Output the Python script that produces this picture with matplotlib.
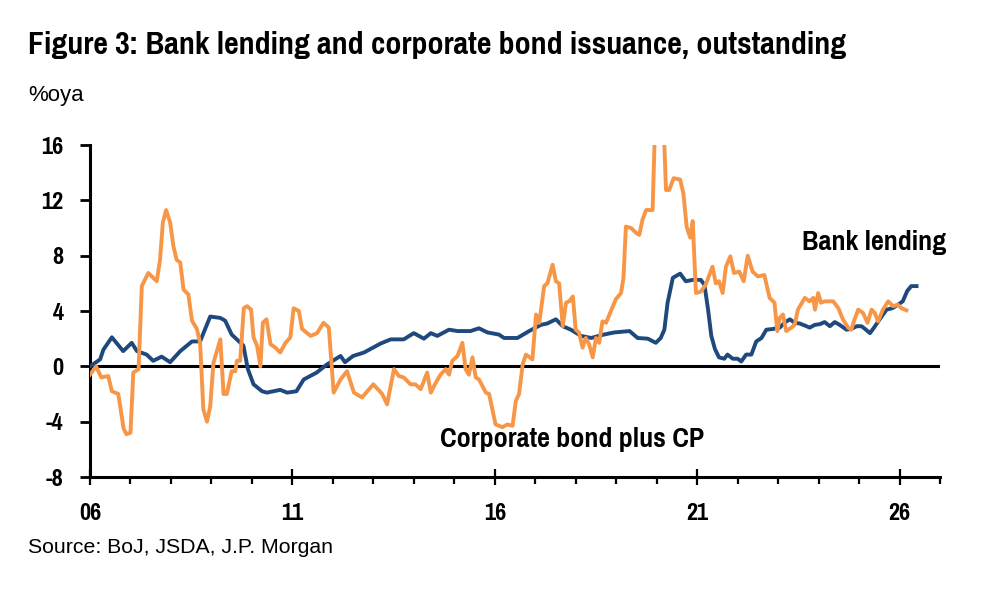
import matplotlib
matplotlib.use('Agg')
import matplotlib.pyplot as plt
from matplotlib import font_manager
from matplotlib.ticker import MultipleLocator, FixedLocator

# bank lending, %oya (decimal year, value)
bank_x = [2006.0, 2006.25, 2006.33, 2006.54, 2006.82, 2007.03, 2007.16, 2007.4, 2007.56, 2007.77,
          2007.98, 2008.23, 2008.52, 2008.72, 2008.97, 2009.22, 2009.34, 2009.5, 2009.79, 2009.9,
          2010.04, 2010.25, 2010.37, 2010.7, 2010.87, 2011.1, 2011.28, 2011.6, 2011.86, 2012.19,
          2012.3, 2012.5, 2012.77, 2013.18, 2013.43, 2013.75, 2014.0, 2014.25, 2014.42, 2014.58,
          2014.87, 2015.08, 2015.4, 2015.61, 2015.82, 2016.1, 2016.23, 2016.56, 2016.85, 2017.14,
          2017.3, 2017.51, 2017.68, 2017.88, 2018.13, 2018.38, 2018.7, 2018.95, 2019.33, 2019.53,
          2019.78, 2019.98, 2020.1, 2020.19, 2020.27, 2020.4, 2020.58, 2020.72, 2020.89, 2021.09,
          2021.18, 2021.27, 2021.35, 2021.44, 2021.54, 2021.67, 2021.75, 2021.88, 2022.0, 2022.09,
          2022.21, 2022.34, 2022.46, 2022.59, 2022.71, 2022.87, 2023.04, 2023.16, 2023.29, 2023.41,
          2023.53, 2023.66, 2023.78, 2023.91, 2024.03, 2024.15, 2024.28, 2024.4, 2024.52, 2024.69,
          2024.81, 2024.94, 2025.06, 2025.15, 2025.27, 2025.37, 2025.51, 2025.68, 2025.82, 2025.96,
          2026.08, 2026.19, 2026.29, 2026.42]
bank_y = [0.0, 0.5, 1.2, 2.1, 1.1, 1.7, 1.1, 0.85, 0.4, 0.7,
          0.3, 1.1, 1.8, 1.8, 3.6, 3.5, 3.3, 2.3, 1.5, -0.2,
          -1.3, -1.8, -1.9, -1.7, -1.9, -1.8, -0.95, -0.45, 0.15, 0.75,
          0.3, 0.75, 1.0, 1.65, 1.95, 1.95, 2.4, 2.0, 2.4, 2.2,
          2.65, 2.55, 2.55, 2.75, 2.45, 2.3, 2.05, 2.05, 2.55, 3.0,
          3.1, 3.4, 2.9, 2.65, 2.2, 2.05, 2.3, 2.45, 2.55, 2.05,
          2.0, 1.7, 2.05, 2.65, 4.6, 6.4, 6.7, 6.15, 6.25, 6.25,
          5.9, 4.1, 2.2, 1.25, 0.65, 0.55, 0.85, 0.55, 0.55, 0.35,
          0.85, 0.85, 1.8, 2.05, 2.65, 2.7, 2.8, 3.15, 3.4, 3.15,
          3.1, 2.95, 2.8, 3.0, 3.05, 3.2, 2.9, 3.2, 3.0, 2.65,
          2.7, 2.9, 2.9, 2.7, 2.4, 2.8, 3.4, 4.1, 4.2, 4.45,
          4.7, 5.45, 5.8, 5.8]

# corporate bond plus CP, %oya
bond_x = [2006.0, 2006.15, 2006.28, 2006.45, 2006.54, 2006.7, 2006.83, 2006.9, 2007.0, 2007.07,
          2007.2, 2007.28, 2007.44, 2007.65, 2007.73, 2007.8, 2007.88, 2007.98, 2008.06, 2008.14,
          2008.23, 2008.31, 2008.43, 2008.52, 2008.64, 2008.72, 2008.8, 2008.89, 2008.97, 2009.05,
          2009.22, 2009.3, 2009.38, 2009.5, 2009.59, 2009.63, 2009.71, 2009.8, 2009.88, 2009.98,
          2010.04, 2010.13, 2010.21, 2010.27, 2010.36, 2010.46, 2010.58, 2010.7, 2010.83, 2010.95,
          2011.03, 2011.16, 2011.24, 2011.45, 2011.61, 2011.77, 2011.9, 2012.02, 2012.19, 2012.35,
          2012.52, 2012.72, 2013.0, 2013.22, 2013.34, 2013.51, 2013.63, 2013.75, 2013.92, 2014.04,
          2014.17, 2014.33, 2014.42, 2014.54, 2014.66, 2014.79, 2014.87, 2014.95, 2015.08, 2015.2,
          2015.28, 2015.36, 2015.45, 2015.53, 2015.61, 2015.78, 2015.86, 2015.94, 2016.02, 2016.19,
          2016.31, 2016.44, 2016.52, 2016.6, 2016.69, 2016.77, 2016.93, 2017.02, 2017.1, 2017.22,
          2017.3, 2017.43, 2017.51, 2017.59, 2017.68, 2017.76, 2017.84, 2017.93, 2018.0, 2018.08,
          2018.17, 2018.25, 2018.33, 2018.42, 2018.5, 2018.58, 2018.66, 2018.75, 2018.87, 2018.99,
          2019.12, 2019.18, 2019.24, 2019.37, 2019.49, 2019.57, 2019.65, 2019.74, 2019.9, 2019.97,
          2020.16, 2020.23, 2020.31, 2020.42, 2020.58, 2020.66, 2020.74, 2020.83, 2020.89, 2020.97,
          2021.09, 2021.21, 2021.38, 2021.46, 2021.54, 2021.63, 2021.71, 2021.82, 2021.91, 2022.04,
          2022.15, 2022.25, 2022.37, 2022.5, 2022.66, 2022.79, 2022.91, 2022.98, 2023.04, 2023.12,
          2023.2, 2023.33, 2023.41, 2023.49, 2023.66, 2023.78, 2023.87, 2023.91, 2023.99, 2024.06,
          2024.15, 2024.36, 2024.49, 2024.6, 2024.73, 2024.81, 2024.89, 2024.98, 2025.1, 2025.21,
          2025.31, 2025.39, 2025.47, 2025.59, 2025.72, 2025.84, 2025.96, 2026.05, 2026.17]
bond_y = [-0.6, 0.0, -0.8, -0.7, -1.8, -2.0, -4.5, -4.9, -4.8, -0.45,
          -0.2, 5.8, 6.75, 6.15, 7.7, 10.4, 11.3, 10.4, 8.7, 7.7,
          7.5, 5.55, 5.2, 3.3, 2.7, 1.7, -3.1, -4.0, -2.9, 0.25,
          1.95, -2.0, -2.0, -0.35, -0.35, 0.4, 0.4, 4.2, 4.35, 4.1,
          2.1, 1.45, 0.0, 3.15, 3.4, 1.6, 1.35, 1.0, 1.7, 2.1,
          4.2, 4.0, 2.7, 2.2, 2.4, 3.15, 2.8, -1.9, -0.95, -0.35,
          -1.9, -2.25, -1.3, -2.0, -2.75, -0.2, -0.7, -0.8, -1.3, -1.3,
          -1.65, -0.45, -1.9, -1.2, -0.6, -0.2, -0.6, 0.4, 0.75, 1.7,
          -0.2, -0.6, 0.65, -0.8, -0.95, -1.9, -2.0, -3.1, -4.2, -4.4,
          -4.2, -4.3, -2.5, -2.0, 0.15, 0.85, 0.5, 3.75, 3.15, 5.8,
          6.0, 7.35, 6.15, 6.0, 2.9, 4.6, 4.7, 5.05, 2.65, 2.45,
          1.35, 2.05, 1.6, 0.65, 2.05, 1.7, 3.25, 3.15, 4.0, 4.85,
          5.3, 6.4, 10.1, 10.0, 9.65, 9.5, 10.6, 11.3, 11.3, 18.5,
          18.5, 12.75, 12.75, 13.6, 13.5, 12.5, 10.1, 9.3, 10.5, 5.3,
          5.4, 5.9, 7.2, 6.0, 6.15, 5.3, 7.2, 7.95, 6.75, 6.85,
          6.15, 8.0, 6.85, 6.5, 6.6, 4.95, 4.6, 2.55, 3.5, 3.75,
          2.55, 2.8, 3.0, 4.1, 4.95, 4.7, 4.95, 4.1, 5.3, 4.6,
          4.7, 4.7, 4.2, 3.4, 2.8, 2.65, 3.4, 4.1, 3.85, 3.15,
          4.1, 3.85, 3.25, 4.1, 4.7, 4.35, 4.45, 4.2, 4.05]

major_years = [2006, 2011, 2016, 2021, 2026]
major_labels = ['06', '11', '16', '21', '26']
y_ticks = [-8, -4, 0, 4, 8, 12, 16]

# 窄体字体（类似 Arial Narrow），按顺序找第一个装了的
names = {f.name for f in font_manager.fontManager.ttflist}
candidates = ['Liberation Sans Narrow', 'Arial Narrow', 'Pragati Narrow', 'Roboto Condensed',
              'Archivo Narrow', 'PT Sans Narrow', 'Liberation Sans']
narrow = [c for c in candidates if c in names][0]
plt.rcParams['font.family'] = [narrow, 'DejaVu Sans']
plt.rcParams['axes.unicode_minus'] = False
regular = ['Liberation Sans', 'DejaVu Sans']

fig = plt.figure(figsize=(10, 5.95), dpi=100)
ax = fig.add_axes([0.09, 0.1983, 0.85, 0.558])

ax.axhline(0, color='black', lw=2.2, zorder=2)
ax.plot(bank_x, bank_y, color='#1f497d', lw=2.8, zorder=3, solid_joinstyle='round')
ax.plot(bond_x, bond_y, color='#f79646', lw=2.8, zorder=4, solid_joinstyle='round')

ax.set_xlim(2006, 2027)
ax.set_ylim(-8, 16)

for s in ['top', 'right']:
    ax.spines[s].set_visible(False)
for s in ['left', 'bottom']:
    ax.spines[s].set_linewidth(2.2)

ax.xaxis.set_major_locator(FixedLocator(major_years))
ax.set_xticklabels(major_labels)
ax.xaxis.set_minor_locator(MultipleLocator(1))
ax.tick_params(axis='x', which='major', direction='inout', length=12, width=1.6, pad=13,
               labelsize=19)
ax.tick_params(axis='x', which='minor', direction='out', length=5, width=1.6)
ax.set_yticks(y_ticks)
ax.tick_params(axis='y', which='major', direction='out', length=7, width=2, pad=12, labelsize=19)
for lbl in ax.get_xticklabels() + ax.get_yticklabels():
    lbl.set_fontweight('bold')

fig.text(0.028, 0.925, 'Figure 3: Bank lending and corporate bond issuance, outstanding',
         fontsize=25, fontweight='bold', va='center', ha='left')
fig.text(0.028, 0.84, '%oya', fontsize=16, va='center', ha='left', family=regular)
fig.text(0.028, 0.079, 'Source: BoJ, JSDA, J.P. Morgan', fontsize=15.3, va='center', ha='left',
         family=regular)

ax.text(2023.58, 8.95, 'Bank lending', fontsize=22, fontweight='bold', va='center', ha='left')
ax.text(2014.65, -5.3, 'Corporate bond plus CP', fontsize=22, fontweight='bold',
        va='center', ha='left')

plt.savefig('out.png', dpi=100)
